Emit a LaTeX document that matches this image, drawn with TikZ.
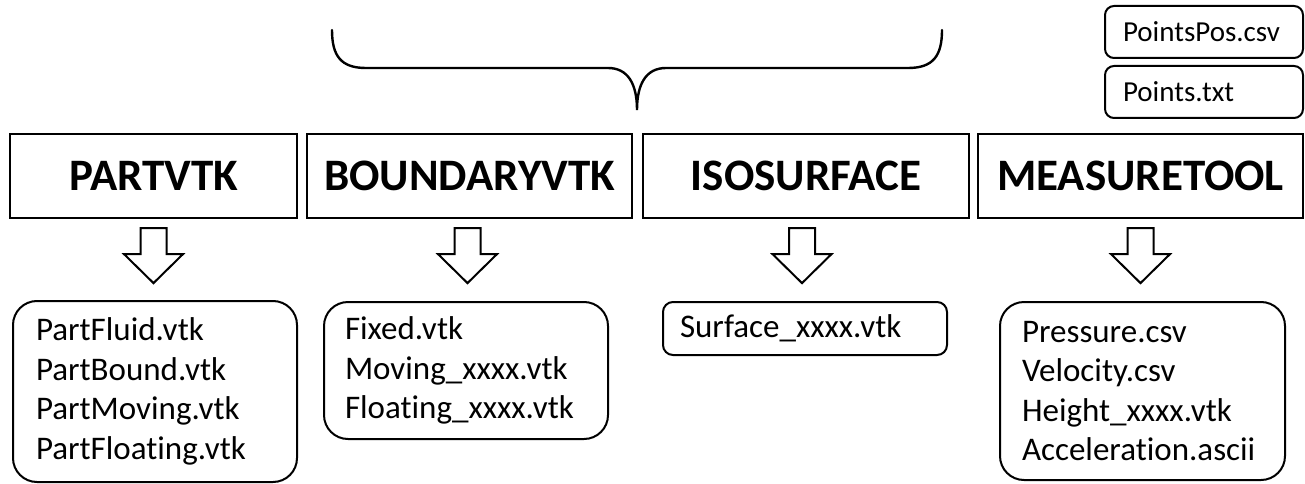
\documentclass[tikz,border=0pt]{standalone}
\usepackage{fontspec}
\setmainfont{Carlito}[Ligatures={NoCommon}]
\usetikzlibrary{calc}
\begin{document}
\begin{tikzpicture}[x=1pt,y=-1pt,
  topbox/.style={draw, line width=2.2pt, minimum height=84pt, inner sep=0pt,
    font=\bfseries\fontsize{45}{50}\selectfont},
  filebox/.style={draw, line width=2pt, rounded corners=#1, inner ysep=0pt,
    align=left, font=\fontsize{33}{39.5}\selectfont},
  filebox/.default=24pt,
  smallbox/.style={draw, line width=2pt, rounded corners=9pt, inner ysep=0pt,
    align=left, minimum width=198pt, minimum height=52pt, inner xsep=18pt,
    text width=162pt, font=\fontsize{29}{34}\selectfont},
  openarrow/.style={draw, line width=2pt, fill=white, line join=miter},
  bracepath/.style={draw, line width=2.4pt, line cap=round}
]
\useasboundingbox (0,0) rectangle (1305,484);

% top tool boxes
\node[topbox, minimum width=287pt] (t1) at (153.5,176) {PARTVTK};
\node[topbox, minimum width=325pt] (t2) at (469.5,176) {BOUNDARYVTK};
\node[topbox, minimum width=326pt] (t3) at (806,176) {ISOSURFACE};
\node[topbox, minimum width=325pt] (t4) at (1140.5,176) {MEASURETOOL};

% input files of MEASURETOOL
\node[smallbox] (p1) at (1204,32) {PointsPos.csv};
\node[smallbox] (p2) at (1204,92) {Points.txt};

% brace over BOUNDARYVTK and ISOSURFACE
\coordinate (bl) at (332,30);
\coordinate (bt) at (637,110);
\coordinate (br) at (942,30);
\draw[bracepath] (bl) .. controls (332,56) and (341,68) .. (366,68)
  -- (608,68) .. controls (628,68) and (637,84) .. (bt)
  .. controls (637,84) and (646,68) .. (666,68)
  -- (908,68) .. controls (933,68) and (942,56) .. (br);

% output file boxes
\node[filebox, minimum width=284pt, minimum height=181pt, inner xsep=23pt, text width=238pt]
  (b1) at (155,391.5) {PartFluid.vtk\\PartBound.vtk\\PartMoving.vtk\\PartFloating.vtk};
\node[filebox, minimum width=284pt, minimum height=137pt, inner xsep=21pt, text width=242pt]
  (b2) at (466,370.5) {Fixed.vtk\\Moving\_xxxx.vtk\\Floating\_xxxx.vtk};
\node[filebox=10pt, minimum width=284pt, minimum height=53pt, inner xsep=17pt, text width=250pt]
  (b3) at (805,328.5) {Surface\_xxxx.vtk};
\node[filebox, minimum width=285pt, minimum height=178pt, inner xsep=22pt, text width=241pt]
  (b4) at (1142.5,391) {Pressure.csv\\Velocity.csv\\Height\_xxxx.vtk\\Acceleration.ascii};

% open block arrows from each tool to its outputs
\foreach \t/\dx in {t1/0, t2/-2, t3/-4, t4/0}{
  \draw[openarrow] ($(\t.south)+(\dx-13,9)$) -- ++(0,26) -- ++(-16.5,0)
    -- ++(29.5,29) -- ++(29.5,-29) -- ++(-16.5,0) -- ++(0,-26) -- cycle;
}
\end{tikzpicture}
\end{document}
